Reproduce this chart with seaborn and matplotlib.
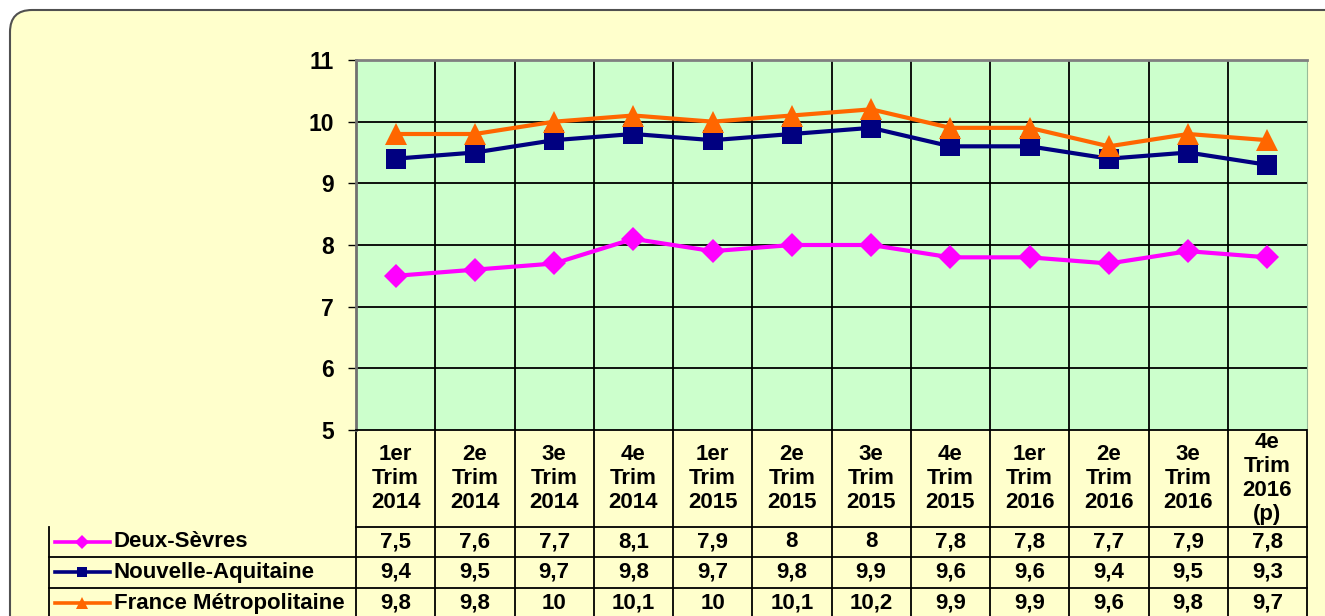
import numpy as np
import pandas as pd
import seaborn as sns
import matplotlib.pyplot as plt
from matplotlib.patches import FancyBboxPatch
from matplotlib.lines import Line2D

plt.rcParams['font.family'] = ['Liberation Sans', 'DejaVu Sans']
plt.rcParams['font.weight'] = 'bold'

# Données
trimestres = ["1er\nTrim\n2014", "2e\nTrim\n2014", "3e\nTrim\n2014", "4e\nTrim\n2014",
              "1er\nTrim\n2015", "2e\nTrim\n2015", "3e\nTrim\n2015", "4e\nTrim\n2015",
              "1er\nTrim\n2016", "2e\nTrim\n2016", "3e\nTrim\n2016", "4e\nTrim\n2016\n(p)"]
deux_sevres = [7.5, 7.6, 7.7, 8.1, 7.9, 8.0, 8.0, 7.8, 7.8, 7.7, 7.9, 7.8]
nouvelle_aquitaine = [9.4, 9.5, 9.7, 9.8, 9.7, 9.8, 9.9, 9.6, 9.6, 9.4, 9.5, 9.3]
france_metro = [9.8, 9.8, 10.0, 10.1, 10.0, 10.1, 10.2, 9.9, 9.9, 9.6, 9.8, 9.7]
series = ["Deux-Sèvres", "Nouvelle-Aquitaine", "France Métropolitaine"]
couleurs = ["#FF00FF", "#000080", "#FF6600"]
marqueurs = ["D", "s", "^"]
tailles = [12.5, 14, 16]

W, H = 1325, 616
fig = plt.figure(figsize=(W / 100, H / 100), dpi=100, facecolor='white')

# Cadre arrondi jaune
bg = fig.add_axes([0, 0, 1, 1], zorder=-1)
bg.set_xlim(0, W)
bg.set_ylim(H, 0)
bg.axis('off')
bg.add_patch(FancyBboxPatch((10, 10), W + 40, H + 40, boxstyle="round,pad=0,rounding_size=22",
                            facecolor='#FFFFCC', edgecolor='#505050', linewidth=1.5))

ax = fig.add_axes([356 / W, 1 - 430 / H, 951 / W, 370 / H])
ax.set_facecolor('#CCFFCC')

x = np.arange(len(trimestres))
valeurs = [deux_sevres, nouvelle_aquitaine, france_metro]
for nom, vals, c, m, s in zip(series, valeurs, couleurs, marqueurs, tailles):
    sns.lineplot(x=x, y=vals, ax=ax, color=c, marker=m, markersize=s, linewidth=3.0,
                 markeredgewidth=0, label=nom, legend=False, zorder=3)

ax.set_xlim(-0.5, len(trimestres) - 0.5)
ax.set_ylim(5, 11)
ax.set_yticks(range(5, 12))
ax.set_yticklabels([str(v) for v in range(5, 12)], fontsize=16.5, fontweight='bold')
ax.tick_params(axis='y', length=6, width=1, pad=10)
ax.set_xticks([])
ax.set_xlabel('')
ax.set_ylabel('')
for yv in range(6, 11):
    ax.axhline(yv, color='black', linewidth=1.3, zorder=1)
for xv in np.arange(0.5, len(trimestres) - 1, 1):
    ax.axvline(xv, color='black', linewidth=1.3, zorder=1)
ax.spines['left'].set_color('#707070')
ax.spines['left'].set_linewidth(2)
ax.spines['bottom'].set_color('black')
ax.spines['bottom'].set_linewidth(1.3)
ax.spines['top'].set_color('#808080')
ax.spines['top'].set_linewidth(2)
ax.spines['right'].set_color('#99BB99')

# Tableau de données sous le graphique
tr = ax.get_xaxis_transform()
lignes = [-0.262, -0.343, -0.427, -0.51]
for xv in np.arange(-0.5, len(trimestres) + 0.5, 1):
    ax.plot([xv, xv], [0, lignes[-1]], transform=tr, color='black', lw=1.3, clip_on=False)
x_gauche = (49 - 356) / 951
for yv in lignes:
    x0 = x_gauche if yv != lignes[0] else 0
    ax.plot([x0, 1], [yv, yv], transform=ax.transAxes, color='black', lw=1.3, clip_on=False)
ax.plot([x_gauche, x_gauche], [lignes[0], lignes[-1]], transform=ax.transAxes,
        color='black', lw=1.3, clip_on=False)

for i, lab in enumerate(trimestres):
    ax.text(i, -0.131, lab, transform=tr, ha='center', va='center', fontsize=16,
            fontweight='bold', linespacing=1.18)

centres = [(lignes[k] + lignes[k + 1]) / 2 for k in range(3)]
for k, (nom, vals, c, m, s) in enumerate(zip(series, valeurs, couleurs, marqueurs, tailles)):
    yc = centres[k]
    ax.add_line(Line2D([(55 - 356) / 951, (110 - 356) / 951], [yc, yc], transform=ax.transAxes,
                       color=c, lw=2.6, clip_on=False))
    ax.add_line(Line2D([(82 - 356) / 951], [yc], transform=ax.transAxes, color=c, marker=m,
                       markersize=s * 0.55, markeredgewidth=0, clip_on=False))
    ax.text((114 - 356) / 951, yc, nom, transform=ax.transAxes, ha='left', va='center',
            fontsize=16, fontweight='bold')
    for i, v in enumerate(vals):
        txt = f"{v:g}".replace('.', ',')
        ax.text(i, yc, txt, transform=tr, ha='center', va='center', fontsize=16, fontweight='bold')

fig.savefig('out.png', dpi=100)
